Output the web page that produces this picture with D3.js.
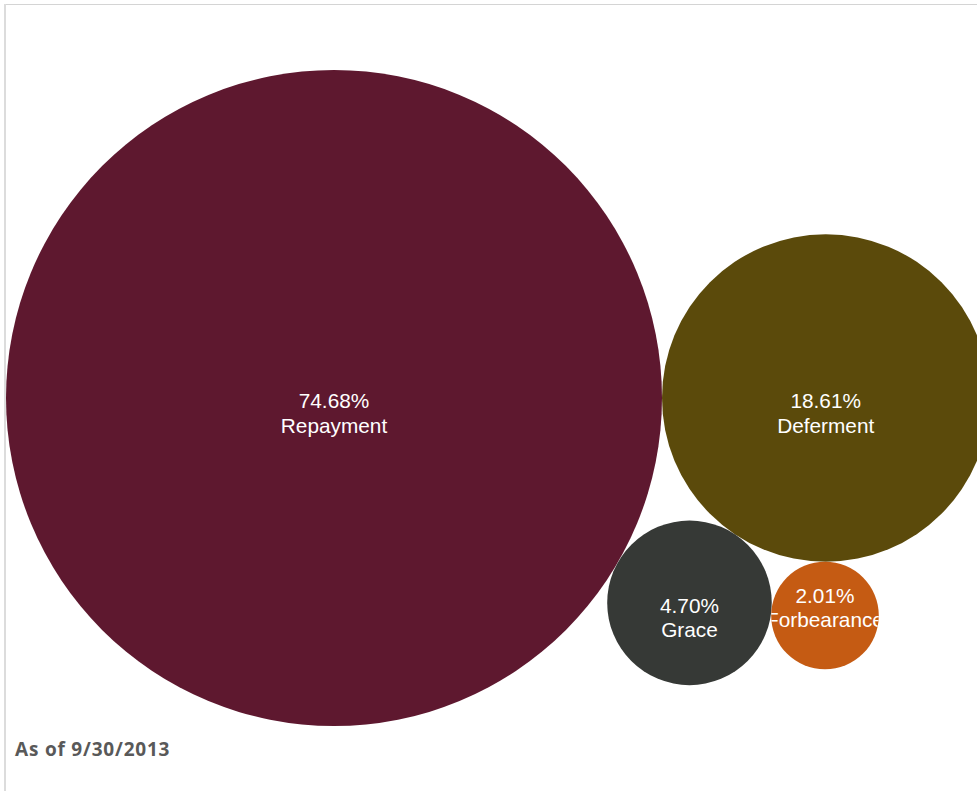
<!DOCTYPE html>
<html>
<head>
<meta charset="utf-8">
<script src="https://cdn.jsdelivr.net/npm/d3@7"></script>
<style>
  html, body { margin: 0; padding: 0; background: #fff; overflow: hidden; }
  svg { display: block; }
</style>
</head>
<body>
<svg id="chart" width="977" height="791"></svg>
<script>
// loan status shares, as of 9/30/2013
const statuses = ['Repayment', 'Deferment', 'Grace', 'Forbearance']
const shares = [74.68, 18.61, 4.70, 2.01]
const colors = ['#5e182f', '#5b4a0b', '#363936', '#c55b13']
const footnote = 'As of 9/30/2013'

const width = 977, height = 791
const svg = d3.select('#chart')

// frame lines
svg.append('line')
    .attr('x1', 4).attr('x2', width).attr('y1', 4.5).attr('y2', 4.5)
    .attr('stroke', '#d4d4d4').attr('stroke-width', 1)
svg.append('line')
    .attr('x1', 5).attr('x2', 5).attr('y1', 4).attr('y2', height)
    .attr('stroke', '#dcdcdc').attr('stroke-width', 2)

const rScale = d3.scaleSqrt()
    .domain([0, d3.max(shares)])
    .range([0, 328])

let nodes = statuses.map((s, i) => ({
    name: s, value: shares[i], color: colors[i], r: rScale(shares[i])
}))

// put c tangent to a and b (side = +1 / -1 picks which side of a->b)
function tangent(a, b, c, side) {
    const dx = b.x - a.x, dy = b.y - a.y
    const d = Math.sqrt(dx * dx + dy * dy)
    const ra = a.r + c.r, rb = b.r + c.r
    const t = (d * d + ra * ra - rb * rb) / (2 * d)
    const h = Math.sqrt(Math.max(0, ra * ra - t * t))
    c.x = a.x + (t * dx - side * h * dy) / d
    c.y = a.y + (t * dy + side * h * dx) / d
}

// packed layout, biggest in the middle
const [rep, def, gra, forb] = nodes
rep.x = 0; rep.y = 0
def.x = rep.r + def.r; def.y = 0
tangent(rep, def, gra, 1)
tangent(gra, def, forb, 1)

const cx = 334, cy = 398
const g = svg.append('g').attr('transform', `translate(${cx - rep.x},${cy - rep.y})`)

const defs = svg.append('defs')
nodes.forEach((d, i) => {
    defs.append('clipPath').attr('id', 'clip-' + i)
        .append('circle').attr('cx', d.x).attr('cy', d.y).attr('r', d.r)
})

const bubble = g.selectAll('g.bubble')
    .data(nodes)
    .enter().append('g')
    .attr('class', 'bubble')

bubble.append('circle')
    .attr('cx', d => d.x)
    .attr('cy', d => d.y)
    .attr('r', d => d.r)
    .attr('fill', d => d.color)

const label = bubble.append('text')
    .attr('clip-path', (d, i) => 'url(#clip-' + i + ')')
    .attr('text-anchor', 'middle')
    .attr('fill', '#fff')
    .style('font-family', '"Liberation Sans", Arial, sans-serif')
    .style('font-size', '20.8px')

// small bubbles get their label lifted a bit
const offset = d => d.r < 60 ? -13 : 10

label.append('tspan')
    .attr('x', d => d.x)
    .attr('y', d => d.y + offset(d))
    .text(d => d.value.toFixed(2) + '%')
label.append('tspan')
    .attr('x', d => d.x)
    .attr('y', d => d.y + offset(d) + 24.5)
    .text(d => d.name)

svg.append('text')
    .attr('x', 15)
    .attr('y', 756)
    .attr('fill', '#595959')
    .style('font-family', '"Open Sans", sans-serif')
    .style('font-weight', 'bold')
    .style('font-size', '19px')
    .style('letter-spacing', '0.8px')
    .text(footnote)
</script>
</body>
</html>
